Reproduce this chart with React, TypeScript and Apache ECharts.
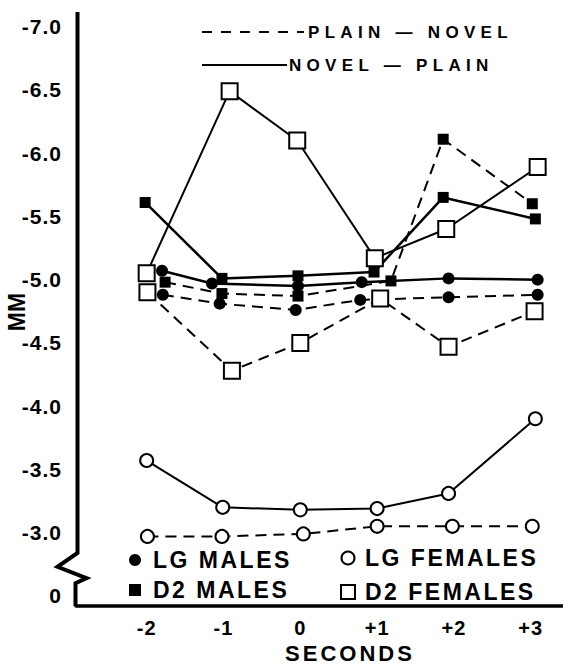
import React, { useEffect, useRef } from 'react';
import * as echarts from 'echarts';

// ---------- data ----------
const xTickValues = [-2, -1, 0, 1, 2, 3];
const yTickValues = [-7, -6.5, -6, -5.5, -5, -4.5, -4, -3.5, -3];
const yBreakLabelValue = -2.5; // printed as "0" below the axis break
const yBreakZigzag = [-2.84, -2.73, -2.64, -2.6];

// LG males (filled circle)
const lgMalesNovelPlainX = [-1.8, -1.15, -0.03, 0.8, 1.93, 3.09];
const lgMalesNovelPlainY = [-5.07, -4.97, -4.95, -4.98, -5.01, -5.0];
const lgMalesPlainNovelX = [-1.79, -1.05, -0.06, 0.78, 1.93, 3.09];
const lgMalesPlainNovelY = [-4.88, -4.81, -4.76, -4.84, -4.86, -4.88];

// D2 males (filled square)
const d2MalesNovelPlainX = [-2.02, -1.02, -0.03, 0.96, 1.86, 3.06];
const d2MalesNovelPlainY = [-5.61, -5.01, -5.03, -5.06, -5.65, -5.48];
const d2MalesPlainNovelX = [-1.76, -1.02, -0.03, 1.18, 1.86, 3.02];
const d2MalesPlainNovelY = [-4.98, -4.89, -4.87, -4.99, -6.11, -5.6];

// LG females (open circle)
const lgFemalesNovelPlainX = [-2.0, -1.01, 0.0, 1.0, 1.93, 3.06];
const lgFemalesNovelPlainY = [-3.57, -3.2, -3.18, -3.19, -3.31, -3.9];
const lgFemalesPlainNovelX = [-1.99, -1.02, 0.04, 1.0, 1.98, 3.02];
const lgFemalesPlainNovelY = [-2.97, -2.97, -2.99, -3.05, -3.05, -3.05];

// D2 females (open square)
const d2FemalesNovelPlainX = [-2.0, -0.92, -0.04, 0.97, 1.9, 3.09];
const d2FemalesNovelPlainY = [-5.05, -6.49, -6.1, -5.17, -5.4, -5.89];
const d2FemalesPlainNovelX = [-1.99, -0.89, 0.0, 1.04, 1.93, 3.05];
const d2FemalesPlainNovelY = [-4.9, -4.28, -4.5, -4.85, -4.47, -4.75];

const legendLineTexts = ['PLAIN — NOVEL', 'NOVEL — PLAIN'];
const legendGroupTexts = ['LG MALES', 'D2 MALES', 'LG FEMALES', 'D2 FEMALES'];
const xAxisTitle = 'SECONDS';
const yAxisTitle = 'MM';

// ---------- styles ----------
const BASE = "'Liberation Sans', Arial";
const fam = (tag: string) => `${BASE}, ${tag}, sans-serif`;
const DASH = [11, 7];

const css = `
text[style*="lspa"]{letter-spacing:1px}
text[style*="lspb"]{letter-spacing:3px}
text[style*="lspc"]{letter-spacing:2.5px}
text[style*="lspd"]{letter-spacing:5.3px}
`;

const pairs = (xs: number[], ys: number[]) => xs.map((x, i) => [x, ys[i]]);

type Def = { name: string; x: number[]; y: number[]; symbol: string; size: number; filled: boolean; dashed: boolean; width: number };

const defs: Def[] = [
  { name: 'LG FEMALES PLAIN-NOVEL', x: lgFemalesPlainNovelX, y: lgFemalesPlainNovelY, symbol: 'circle', size: 13, filled: false, dashed: true, width: 2 },
  { name: 'LG FEMALES NOVEL-PLAIN', x: lgFemalesNovelPlainX, y: lgFemalesNovelPlainY, symbol: 'circle', size: 13, filled: false, dashed: false, width: 2 },
  { name: 'D2 FEMALES PLAIN-NOVEL', x: d2FemalesPlainNovelX, y: d2FemalesPlainNovelY, symbol: 'rect', size: 16, filled: false, dashed: true, width: 2 },
  { name: 'D2 FEMALES NOVEL-PLAIN', x: d2FemalesNovelPlainX, y: d2FemalesNovelPlainY, symbol: 'rect', size: 16, filled: false, dashed: false, width: 2 },
  { name: 'D2 MALES PLAIN-NOVEL', x: d2MalesPlainNovelX, y: d2MalesPlainNovelY, symbol: 'rect', size: 11, filled: true, dashed: true, width: 2 },
  { name: 'D2 MALES NOVEL-PLAIN', x: d2MalesNovelPlainX, y: d2MalesNovelPlainY, symbol: 'rect', size: 11, filled: true, dashed: false, width: 2.5 },
  { name: 'LG MALES PLAIN-NOVEL', x: lgMalesPlainNovelX, y: lgMalesPlainNovelY, symbol: 'circle', size: 12, filled: true, dashed: true, width: 2 },
  { name: 'LG MALES NOVEL-PLAIN', x: lgMalesNovelPlainX, y: lgMalesNovelPlainY, symbol: 'circle', size: 12, filled: true, dashed: false, width: 2.5 },
];

export default function App() {
  const ref = useRef<HTMLDivElement>(null);

  useEffect(() => {
    if (!ref.current) return;
    const chart = echarts.init(ref.current, null, { renderer: 'svg' });

    const series = defs.map((d) => ({
      type: 'line',
      name: d.name,
      data: pairs(d.x, d.y),
      symbol: d.symbol,
      symbolSize: d.size,
      showSymbol: true,
      silent: true,
      lineStyle: { color: '#000', width: d.width, type: d.dashed ? DASH : 'solid' },
      itemStyle: d.filled
        ? { color: '#000', borderWidth: 0 }
        : { color: '#fff', borderColor: '#000', borderWidth: 2 },
      emphasis: { disabled: true },
    }));

    const option: any = {
      animation: false,
      backgroundColor: '#fff',
      grid: { left: 76, right: 0, top: 14, bottom: 62 },
      xAxis: {
        type: 'value',
        min: -2.92,
        max: 3.42,
        axisLine: { show: true, onZero: false, lineStyle: { color: '#000', width: 3.5 } },
        axisTick: { show: false },
        splitLine: { show: false },
        axisLabel: {
          customValues: xTickValues,
          formatter: (v: number) => (v > 0 ? '+' + v : String(v)),
          color: '#000',
          fontSize: 20,
          fontWeight: 'bold',
          fontFamily: fam('lspa'),
          margin: 12,
        },
      },
      yAxis: {
        type: 'value',
        inverse: true,
        min: -7.1,
        max: -2.42,
        axisLine: { show: false },
        axisTick: { show: false },
        splitLine: { show: false },
        axisLabel: {
          customValues: [...yTickValues, yBreakLabelValue],
          formatter: (v: number) => (Math.abs(v - yBreakLabelValue) < 1e-6 ? '0' : v.toFixed(1)),
          color: '#000',
          fontSize: 21,
          fontWeight: 'bold',
          fontFamily: fam('lspa'),
          margin: 14,
        },
      },
      series,
    };

    chart.setOption(option);

    // axis decorations computed from the library's own scales
    const axX = (chart.convertToPixel({ xAxisIndex: 0 }, -2.92) as number) + 1.5;
    const topY = (chart.convertToPixel({ yAxisIndex: 0 }, -7.1) as number) - 2;
    const botY = chart.convertToPixel({ yAxisIndex: 0 }, -2.42) as number;
    const bz = yBreakZigzag.map((v) => chart.convertToPixel({ yAxisIndex: 0 }, v) as number);
    const zigOffsets = [0, -20, 9, -2];

    const txt = (text: string, x: number, y: number, size: number, tag: string, align = 'left', extra: any = {}) => ({
      type: 'text',
      x,
      y,
      silent: true,
      ...extra,
      style: {
        text,
        fill: '#000',
        fontSize: size,
        fontWeight: 'bold',
        fontFamily: fam(tag),
        align,
        verticalAlign: 'middle',
      },
    });

    const graphic: any[] = [
      {
        type: 'polyline',
        silent: true,
        shape: {
          points: [
            [axX, topY],
            ...bz.map((y, i) => [axX + zigOffsets[i], y]),
            [axX - 2, botY],
          ],
        },
        style: { stroke: '#000', lineWidth: 4, fill: null, lineJoin: 'miter' },
      },
      // top legend (line styles)
      { type: 'line', silent: true, shape: { x1: 202, y1: 32, x2: 304, y2: 32 }, style: { stroke: '#000', lineWidth: 2, lineDash: [10, 9] } },
      txt(legendLineTexts[0], 308, 32, 17, 'lspd'),
      { type: 'line', silent: true, shape: { x1: 202, y1: 65, x2: 287, y2: 65 }, style: { stroke: '#000', lineWidth: 2 } },
      txt(legendLineTexts[1], 289, 65, 17, 'lspd'),
      // bottom legend (groups)
      { type: 'circle', silent: true, shape: { cx: 135, cy: 560, r: 6 }, style: { fill: '#000' } },
      txt(legendGroupTexts[0], 153, 560, 23, 'lspc'),
      { type: 'rect', silent: true, shape: { x: 129, y: 584, width: 12, height: 12 }, style: { fill: '#000' } },
      txt(legendGroupTexts[1], 153, 590, 23, 'lspc'),
      { type: 'circle', silent: true, shape: { cx: 348, cy: 558, r: 6.5 }, style: { fill: '#fff', stroke: '#000', lineWidth: 2 } },
      txt(legendGroupTexts[2], 365, 558, 23, 'lspc'),
      { type: 'rect', silent: true, shape: { x: 341, y: 585, width: 14, height: 14 }, style: { fill: '#fff', stroke: '#000', lineWidth: 2 } },
      txt(legendGroupTexts[3], 365, 592, 23, 'lspc'),
      // axis titles
      txt(xAxisTitle, 350, 653, 22, 'lspb', 'center'),
      txt(yAxisTitle, 17, 312, 23, 'lspz', 'center', { rotation: Math.PI / 2 }),
    ];

    chart.setOption({ graphic });

    return () => chart.dispose();
  }, []);

  return (
    <>
      <style>{css + 'body{margin:0;}'}</style>
      <div ref={ref} style={{ position: 'fixed', left: 0, top: 0, width: 563, height: 668, background: '#fff' }} />
    </>
  );
}
